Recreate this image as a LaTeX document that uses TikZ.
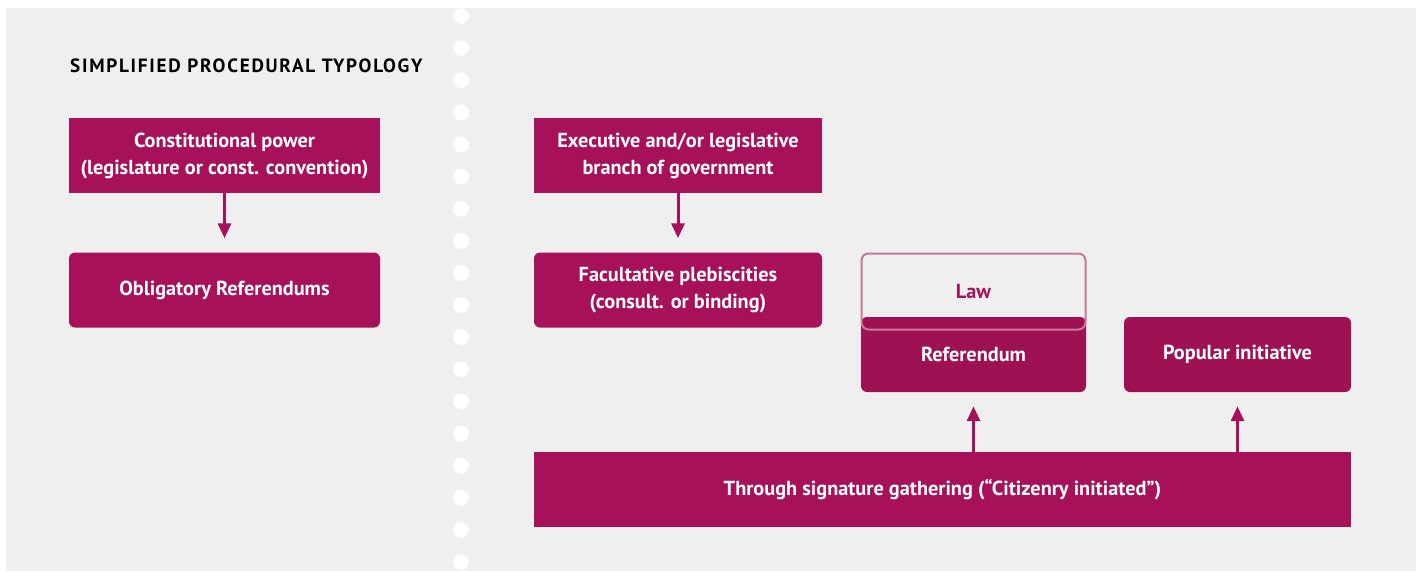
\documentclass[tikz,border=0pt]{standalone}
\usepackage{fontspec}
\setmainfont{PT Sans}
\usetikzlibrary{arrows.meta}
\definecolor{plum}{RGB}{166,17,90}
\definecolor{darkplum}{RGB}{158,18,84}
\definecolor{lawline}{RGB}{201,120,152}
\definecolor{panel}{RGB}{239,239,239}
\tikzstyle{plainbox}=[rectangle,fill=plum,text=white,font=\bfseries\fontsize{20.3}{27}\selectfont,align=center,minimum height=75pt,inner sep=0pt]
\tikzstyle{roundbox}=[plainbox,rounded corners=6pt]
\tikzstyle{lawbox}=[rectangle,draw=lawline,line width=2pt,rounded corners=7pt,text=plum,font=\bfseries\fontsize{20.3}{27}\selectfont,minimum width=224pt,minimum height=76pt,inner sep=0pt]
\tikzstyle{edge}=[draw,plum,line width=3pt,-{Triangle[length=15pt,width=13pt]}]

\begin{document}
\begin{tikzpicture}[x=1pt,y=-1pt]

    \useasboundingbox (0,0) rectangle (1420,571);
    \fill[panel] (6,8) rectangle (1416,571);

    % dotted divider
    \foreach \i in {0,...,17}
        \fill[white] (461,16+\i*32.12) circle (8pt);

    \node[anchor=base west,inner sep=0pt,font=\bfseries\fontsize{19.2}{20}\addfontfeature{LetterSpace=9}\selectfont] (title) at (70,72) {SIMPLIFIED PROCEDURAL TYPOLOGY};

     \foreach \x/\y/\w/\name/\txt in {224.5/155.5/311/const/{Constitutional power\\(legislature or const. convention)}, 678/155.5/288/exec/{Executive and/or legislative\\branch of government}, 942.5/489.5/817/signature/{Through signature gathering (“Citizenry initiated”)}}
        \node[plainbox, minimum width=\w pt] (\name) at (\x,\y) {\txt};

     \foreach \x/\y/\w/\name/\txt in {224.5/290/311/oblig/{Obligatory Referendums}, 678/290/288/facult/{Facultative plebiscities\\(consult. or binding)}}
        \node[roundbox, minimum width=\w pt] (\name) at (\x,\y) {\txt};

     \foreach \x/\y/\w/\name/\txt in {973.5/354.5/225/refer/{Referendum}, 1237.5/354.5/227/popular/{Popular initiative}}
        \node[roundbox, fill=darkplum, minimum width=\w pt] (\name) at (\x,\y) {\txt};

    \node[lawbox] (law) at (973.5,291.5) {Law};

    \foreach \source/ \dest in {const/oblig, exec/facult}
        \path[edge, shorten >=14pt] (\source) -- (\dest);

    \foreach \dest in {refer, popular}
        \path[edge, shorten >=14pt] (\dest |- signature.north) -- (\dest.south);

\end{tikzpicture}
\end{document}
